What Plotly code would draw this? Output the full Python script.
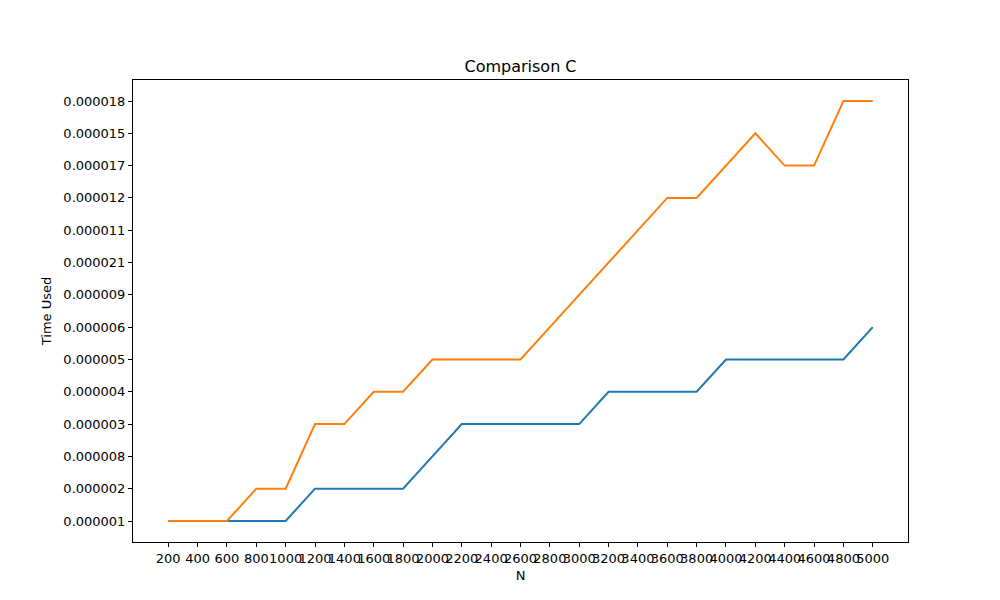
import plotly.graph_objects as go

n_values = [str(v) for v in range(200, 5001, 200)]
y_categories = ["0.000001", "0.000002", "0.000008", "0.000003", "0.000004", "0.000005",
                "0.000006", "0.000009", "0.000021", "0.000011", "0.000012", "0.000017",
                "0.000015", "0.000018"]
series_a = ["0.000001"] * 5 + ["0.000002"] * 4 + ["0.000008"] + ["0.000003"] * 5 + \
    ["0.000004"] * 4 + ["0.000005"] * 5 + ["0.000006"]
series_b = ["0.000001"] * 3 + ["0.000002"] * 2 + ["0.000003"] * 2 + ["0.000004"] * 2 + \
    ["0.000005"] * 4 + ["0.000006", "0.000009", "0.000021", "0.000011", "0.000012",
                        "0.000012", "0.000017", "0.000015", "0.000017", "0.000017",
                        "0.000018", "0.000018"]

fig = go.Figure()
fig.add_trace(go.Scatter(x=n_values, y=series_a, mode="lines",
                         line=dict(color="#1f77b4", width=2)))
fig.add_trace(go.Scatter(x=n_values, y=series_b, mode="lines",
                         line=dict(color="#ff7f0e", width=2)))

axis_style = dict(showline=True, linecolor="black", linewidth=1, mirror=True,
                  ticks="outside", ticklen=4, tickcolor="black", showgrid=False,
                  zeroline=False, automargin=False, tickfont=dict(size=13, color="black"))
fig.update_layout(
    width=1000, height=600, plot_bgcolor="white", paper_bgcolor="white",
    margin=dict(l=125, r=100, t=72, b=66, autoexpand=False), showlegend=False,
    font=dict(family="DejaVu Sans", color="black"),
    title=dict(text="Comparison C", x=0.5125, y=0.903, xanchor="center", yanchor="middle",
               font=dict(size=16)),
    xaxis=dict(type="category", categoryorder="array", categoryarray=n_values,
               range=[-1.2, 25.2], tickangle=0, title=dict(text="N", font=dict(size=13), standoff=6),
               **axis_style),
    yaxis=dict(type="category", categoryorder="array", categoryarray=y_categories,
               range=[-0.65, 13.65], title=dict(text="Time Used", font=dict(size=13), standoff=8),
               **axis_style),
)
fig.write_html("out.html")
